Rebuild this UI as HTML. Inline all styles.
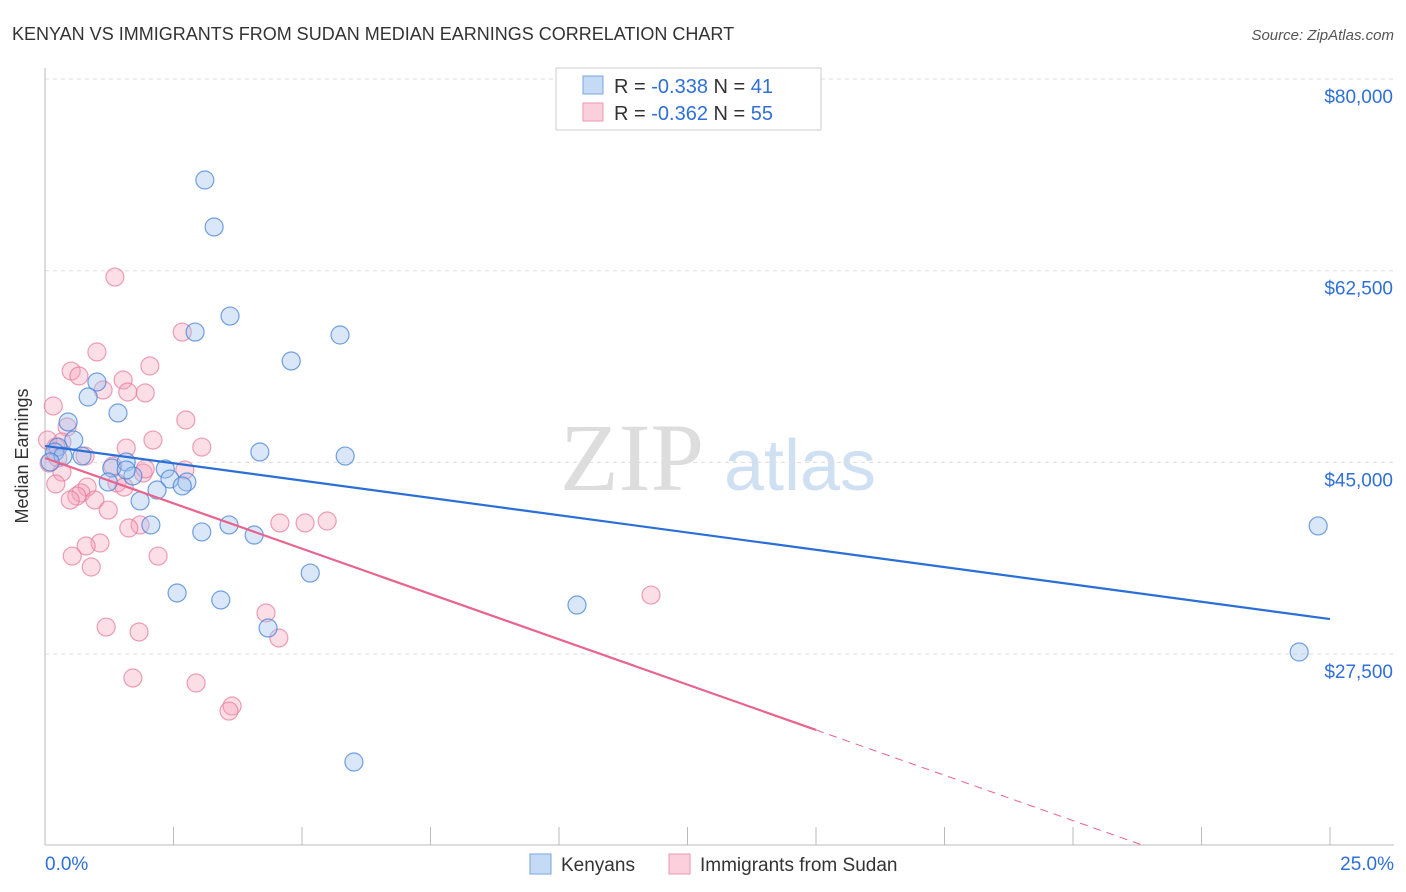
<!DOCTYPE html>
<html><head><meta charset="utf-8">
<style>
body{margin:0;background:#fff;font-family:"Liberation Sans",sans-serif;}
svg{display:block}
</style></head>
<body>
<svg id="chart" width="1406" height="892" viewBox="0 0 1406 892" xmlns="http://www.w3.org/2000/svg">
<text x="12" y="40" font-size="18" fill="#333">KENYAN VS IMMIGRANTS FROM SUDAN MEDIAN EARNINGS CORRELATION CHART</text>
<text x="1394" y="40" font-size="15" fill="#555" font-style="italic" text-anchor="end">Source: ZipAtlas.com</text>
<g>
<text x="632" y="490" font-size="96" fill="#ddd" font-family="Liberation Serif,serif" text-anchor="middle">ZIP</text>
<text x="800" y="490" font-size="72" fill="#cfe0f3" text-anchor="middle">atlas</text>
</g>
<g id="grid"></g>
<g id="axes"></g>
<g id="pts"></g>
<g id="lines"></g>
<text x="28" y="456" font-size="18" fill="#333" text-anchor="middle" transform="rotate(-90 28 456)">Median Earnings</text>
<g>
<rect x="556" y="68" width="265" height="62" fill="#fff" stroke="#ccc"/>
<rect x="583" y="76" width="20" height="18" fill="#c5daf5" stroke="#7aa6e0"/>
<rect x="583" y="103" width="20" height="18" fill="#fbd0dc" stroke="#eb97b0"/>
<text x="614" y="93" font-size="20" fill="#333">R = <tspan fill="#2f6fd6">-0.338</tspan>   N = <tspan fill="#2f6fd6">41</tspan></text>
<text x="614" y="120" font-size="20" fill="#333">R = <tspan fill="#2f6fd6">-0.362</tspan>   N = <tspan fill="#2f6fd6">55</tspan></text>
</g>
<g>
<rect x="530" y="854" width="21" height="20" fill="#c5daf5" stroke="#7aa6e0"/>
<text x="561" y="871" font-size="19" fill="#333">Kenyans</text>
<rect x="669" y="854" width="21" height="20" fill="#fbd0dc" stroke="#eb97b0"/>
<text x="700" y="871" font-size="19" fill="#333">Immigrants from Sudan</text>
</g>
</svg>
<script>
const yTicks=[80000,62500,45000,27500];
const yTickLabels=["$80,000","$62,500","$45,000","$27,500"];
const xTickVals=[0,2.5,5,7.5,10,12.5,15,17.5,20,22.5,25];
const xEndLabels=["0.0%","25.0%"];
const kenyanX=[3.11,3.29,3.60,2.92,5.74,4.79,1.01,0.84,1.42,0.45,0.56,0.25,0.19,0.35,0.72,4.18,5.84,1.30,1.58,2.34,1.71,2.43,1.23,2.76,2.67,2.18,1.85,2.06,3.05,3.58,4.07,5.16,2.57,3.42,10.35,4.34,24.77,24.40,6.01,1.58,0.10];
const kenyanY=[70780,66490,58360,56900,56630,54260,52340,50970,49510,48690,47040,46400,45950,45580,45580,45950,45580,44490,45040,44400,43760,43480,43210,43210,42850,42480,41480,39290,38650,39290,38370,34900,33080,32440,31980,29880,39200,27690,17650,44310,45040];
const sudanX=[1.36,2.67,1.01,0.51,0.66,2.04,1.52,1.13,1.95,1.61,0.16,2.74,0.43,0.33,0.21,2.10,1.58,3.05,0.78,0.08,0.33,1.32,1.91,1.95,2.72,1.40,1.54,0.82,0.70,0.62,0.49,0.97,1.23,0.21,1.85,1.63,1.07,0.80,0.53,2.20,0.90,4.57,5.06,5.49,4.30,4.55,11.79,1.19,1.83,1.71,2.94,3.64,3.58,0.25,0.05];
const sudanY=[61920,56900,55080,53340,52890,53800,52520,51610,51340,51430,50150,48870,48230,46860,46400,47040,46310,46400,45580,44940,44120,44670,44030,44400,44310,43120,42750,42750,42210,41930,41570,41570,40650,43030,39290,39010,37640,37370,36450,36450,35450,39470,39470,39650,31250,28970,32890,29970,29520,25320,24860,22760,22300,45400,47040];
const trendBlue=[46500,30700];   // value at 0% and 25%
const trendPink=[45400,-1655];   // intercept, slope per %
const pinkSolidEnd=[15];
const X=p=>45+p/25*1285;
const Y=v=>79+(80000-v)/17500*191.7;
const NS="http://www.w3.org/2000/svg";
function mk(t,a,parent){const e=document.createElementNS(NS,t);for(const k in a)e.setAttribute(k,a[k]);parent.appendChild(e);return e;}
const grid=document.getElementById('grid'),axes=document.getElementById('axes'),pts=document.getElementById('pts'),lines=document.getElementById('lines');
yTicks.forEach((v,i)=>{
 const g=mk('line',{x1:45,x2:1394,y1:Y(v),y2:Y(v),stroke:'#ddd','stroke-dasharray':'4,4'},grid);
 
 
 const t=mk('text',{x:1393,y:Y(v)+24,'font-size':19,fill:'#2f6fd6','text-anchor':'end'},axes);
 t.textContent=yTickLabels[i];
 
 
});
const ax=mk('line',{x1:45,x2:45,y1:68,y2:845,stroke:'#bbb'},axes);


const bx=mk('line',{x1:45,x2:1394,y1:845,y2:845,stroke:'#bbb'},axes);


xTickVals.forEach(p=>{
 const l=mk('line',{x1:X(p),x2:X(p),y1:827,y2:845,stroke:'#bbb'},axes);
 
 
});
const xl0=mk('text',{x:45,y:870,'font-size':19,fill:'#2f6fd6'},axes);xl0.textContent=xEndLabels[0];


const xl1=mk('text',{x:1394,y:870,'font-size':19,fill:'#2f6fd6','text-anchor':'end'},axes);xl1.textContent=xEndLabels[1];


sudanX.forEach((x,i)=>{
 const c=mk('circle',{cx:X(x),cy:Y(sudanY[i]),r:9,fill:'rgba(245,160,185,0.35)',stroke:'rgba(230,120,155,0.7)','stroke-width':1.2},pts);
 
 
});
kenyanX.forEach((x,i)=>{
 const c=mk('circle',{cx:X(x),cy:Y(kenyanY[i]),r:9,fill:'rgba(160,195,240,0.4)',stroke:'rgba(70,130,215,0.75)','stroke-width':1.2},pts);
 
 
});
const bl=mk('line',{x1:X(0),y1:Y(trendBlue[0]),x2:X(25),y2:Y(trendBlue[1]),stroke:'#2a6fd8','stroke-width':2.2},lines);


const pv=p=>trendPink[0]+trendPink[1]*p;
const pl=mk('line',{x1:X(0),y1:Y(pv(0)),x2:X(pinkSolidEnd[0]),y2:Y(pv(pinkSolidEnd[0])),stroke:'#e8648e','stroke-width':2.2},lines);


const vBottom=80000-(845-79)/191.7*17500;
const pEnd=Math.min(25,(vBottom-trendPink[0])/trendPink[1]);
const pd=mk('line',{x1:X(pinkSolidEnd[0]),y1:Y(pv(pinkSolidEnd[0])),x2:X(pEnd),y2:Y(pv(pEnd)),stroke:'#e8648e','stroke-width':1,'stroke-dasharray':'8,6'},lines);


</script>
</body></html>
